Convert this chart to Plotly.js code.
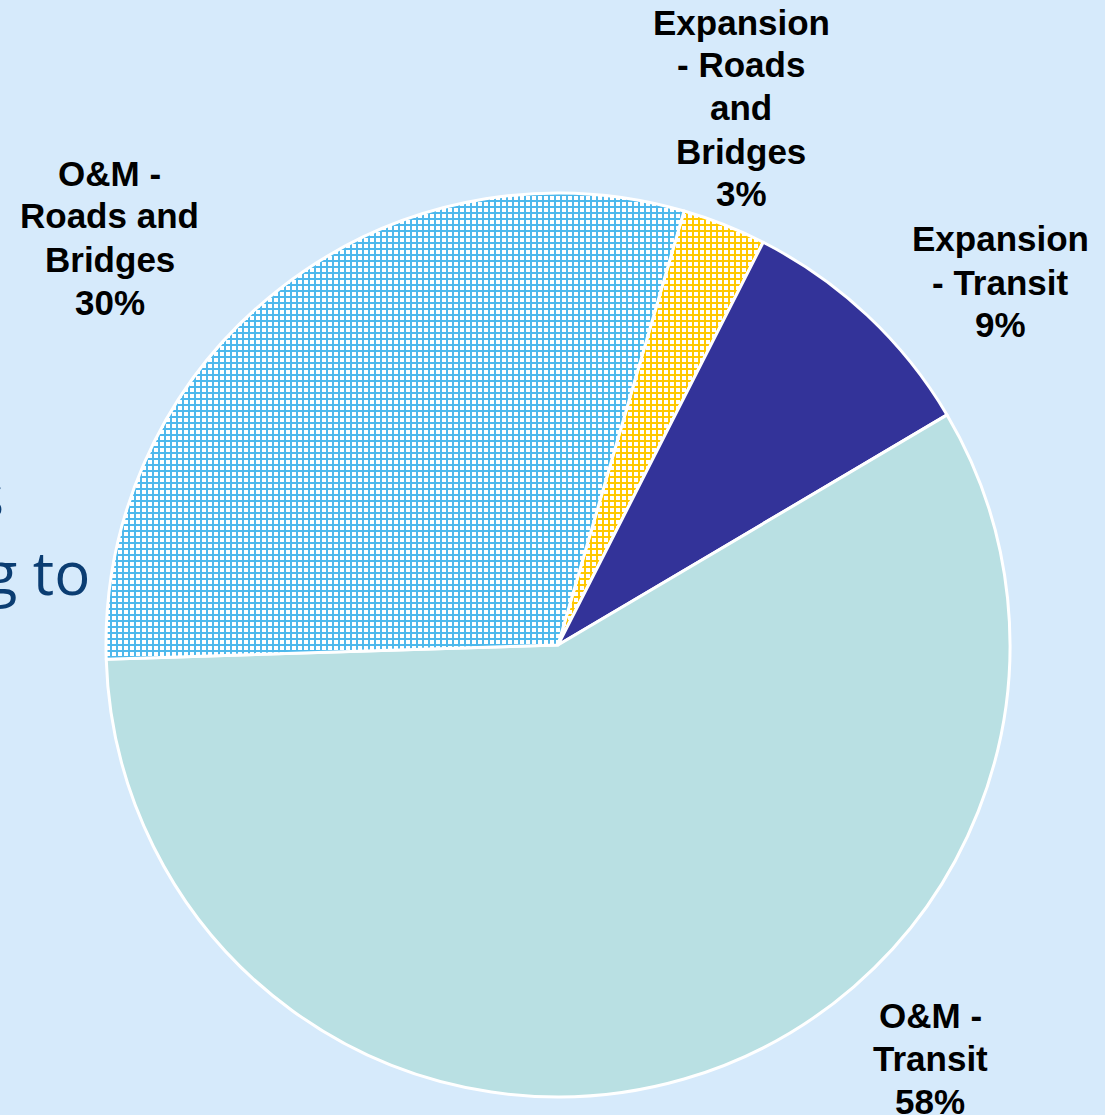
<!DOCTYPE html>
<html>
<head>
<meta charset="utf-8">
<script src="https://cdn.plot.ly/plotly-3.0.1.min.js"></script>
<style>html,body{margin:0;padding:0;background:#d6eafb;overflow:hidden}</style>
</head>
<body>
<div id="chart" style="width:1105px;height:1115px"></div>
<script>
// Data
var categories = ["Expansion - Roads and Bridges", "Expansion - Transit", "O&M - Transit", "O&M - Roads and Bridges"];
var labelLines = [
  ["Expansion", "- Roads", "and", "Bridges"],
  ["Expansion", "- Transit"],
  ["O&M -", "Transit"],
  ["O&M -", "Roads and", "Bridges"]
];
var shares = [3, 9, 58, 30];

// Styling
var colors = ["#ffc800", "#333399", "#b9e0e3", "#4db8ec"];
var patterns = ["+", "", "", "+"];
var W = 1105, H = 1115;
var labelX = [741, 1000, 930, 110];      // pixel centre of label block
var labelTop = [22, 239, 1015, 173];     // pixel centre of first line
var lineStep = 43;

function px(x) { return x / W; }
function py(y) { return 1 - y / H; }

var trace = {
  type: "pie",
  labels: categories,
  values: shares,
  sort: false,
  direction: "clockwise",
  rotation: 16.2,
  textinfo: "none",
  hoverinfo: "label+percent",
  domain: {x: [px(106), px(1010)], y: [py(1097), py(193)]},
  marker: {
    colors: colors,
    line: {color: "#ffffff", width: 3},
    pattern: {
      shape: patterns,
      fgcolor: ["#ffc800", "#333399", "#b9e0e3", "#4db8ec"],
      bgcolor: ["#ffffff", "#333399", "#b9e0e3", "#ffffff"],
      fillmode: "replace",
      size: [6, 8, 8, 6],
      solidity: [0.55, 0.3, 0.3, 0.55]
    }
  }
};

var annotations = [];
categories.forEach(function (c, i) {
  var lines = labelLines[i].concat([shares[i] + "%"]);
  lines.forEach(function (t, k) {
    annotations.push({
      xref: "paper", yref: "paper",
      x: px(labelX[i]), y: py(labelTop[i] + k * lineStep),
      xanchor: "center", yanchor: "middle",
      text: "<b>" + t + "</b>",
      showarrow: false,
      font: {family: "Liberation Sans, Arial, sans-serif", size: 35, color: "#000000"}
    });
  });
});

// Background text fragments partially covered on the original slide
annotations.push({
  xref: "paper", yref: "paper", x: px(92), y: py(572),
  xanchor: "right", yanchor: "middle",
  text: "ding to", showarrow: false,
  font: {family: "Open Sans, Noto Sans, sans-serif", size: 60, color: "#0b3d72"}
});
annotations.push({
  xref: "paper", yref: "paper", x: px(6), y: py(495),
  xanchor: "right", yanchor: "middle",
  text: "ss", showarrow: false,
  font: {family: "Open Sans, Noto Sans, sans-serif", size: 60, color: "#0b3d72"}
});

var layout = {
  width: W, height: H,
  margin: {l: 0, r: 0, t: 0, b: 0},
  paper_bgcolor: "#d6eafb",
  plot_bgcolor: "#d6eafb",
  showlegend: false,
  annotations: annotations
};

Plotly.newPlot("chart", [trace], layout, {displayModeBar: false, staticPlot: true});
</script>
</body>
</html>
